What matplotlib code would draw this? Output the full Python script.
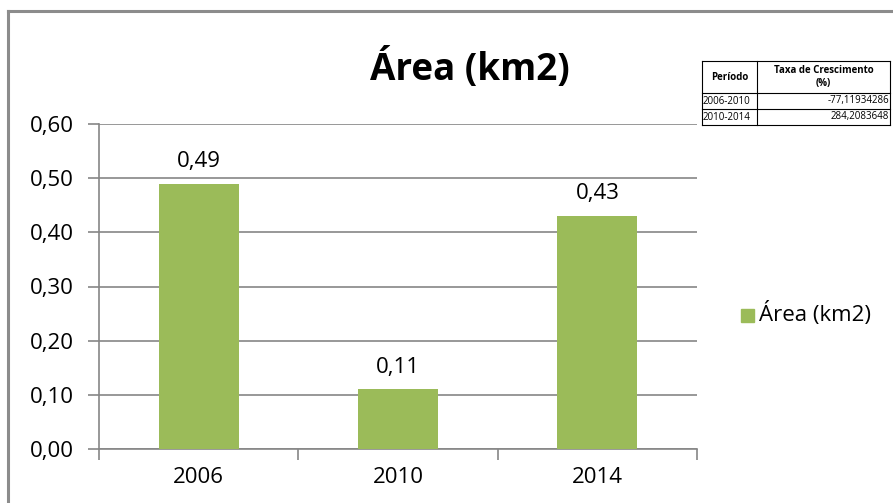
import matplotlib.pyplot as plt
from matplotlib.patches import Rectangle
from matplotlib.lines import Line2D

# Data
years = ['2006', '2010', '2014']
area = [0.49, 0.11, 0.43]
labels = ['0,49', '0,11', '0,43']
yticks = [0.0, 0.1, 0.2, 0.3, 0.4, 0.5, 0.6]
ytick_labels = ['0,00', '0,10', '0,20', '0,30', '0,40', '0,50', '0,60']
periodos = ['2006-2010', '2010-2014']
taxas = ['-77,11934286', '284,2083648']

plt.rcParams['font.family'] = ['Open Sans', 'DejaVu Sans']

W, H = 893, 503
fig = plt.figure(figsize=(W / 100, H / 100), dpi=100)
grid_c = '#868686'
fs = 16

# chart border (only left and top visible)
fig.add_artist(Line2D([8 / W, 8 / W], [0, 1 - 11 / H], color='#8c8c8c', lw=2.2))
fig.add_artist(Line2D([8 / W, 1], [1 - 11 / H, 1 - 11 / H], color='#8c8c8c', lw=2.2))

ax = fig.add_axes([99 / W, 1 - 449 / H, (697 - 99) / W, (449 - 124) / H])
x = range(len(years))
ax.bar(x, area, width=0.4, color='#9BBB59', zorder=3)
for i, v in enumerate(area):
    ax.text(i, v + 0.022, labels[i], ha='center', va='bottom', fontsize=fs)

ax.set_xlim(-0.5, 2.5)
ax.set_ylim(0, 0.6)
ax.set_yticks(yticks)
ax.set_yticklabels(ytick_labels, fontsize=fs)
ax.set_xticks(x)
ax.set_xticklabels(years, fontsize=fs)
ax.tick_params(axis='x', length=0, pad=13)
ax.tick_params(axis='y', length=8, color=grid_c, width=1.2, pad=10)
# x ticks at category boundaries
ax.set_xticks([-0.5, 0.5, 1.5, 2.5], minor=True)
ax.tick_params(axis='x', which='minor', length=8, color=grid_c, width=1.2)
ax.grid(axis='y', color=grid_c, lw=1.2, zorder=0)
for s in ['top', 'right']:
    ax.spines[s].set_visible(False)
ax.spines['left'].set_color(grid_c)
ax.spines['bottom'].set_color(grid_c)
ax.spines['left'].set_linewidth(1.2)
ax.spines['bottom'].set_linewidth(1.2)

fig.text(470 / W, 1 - 68 / H, 'Área (km2)', ha='center', va='center',
         fontsize=26.5, fontweight='bold')

# legend
fig.add_artist(Rectangle((741 / W, 1 - 322 / H), 13 / W, 13 / H,
                         color='#9BBB59', transform=fig.transFigure))
fig.text(759 / W, 1 - 314 / H, 'Área (km2)', ha='left', va='center', fontsize=fs)

# small table
tl, tm, tr = 702, 757, 890
rows_y = [61, 93, 109, 125]
for yy in rows_y:
    fig.add_artist(Line2D([tl / W, tr / W], [1 - yy / H, 1 - yy / H], color='black', lw=0.8))
for xx in [tl, tm, tr]:
    fig.add_artist(Line2D([xx / W, xx / W], [1 - 61 / H, 1 - 125 / H], color='black', lw=0.8))
fig.text((tl + tm) / 2 / W, 1 - 77 / H, 'Período', ha='center', va='center',
         fontsize=7, fontweight='bold')
fig.text((tm + tr) / 2 / W, 1 - 77 / H, 'Taxa de Crescimento\n(%)', ha='center',
         va='center', fontsize=7, fontweight='bold', linespacing=1.2)
for i in range(2):
    yc = (rows_y[i + 1] + rows_y[i + 2]) / 2
    fig.text((tl + 1) / W, 1 - yc / H, periodos[i], ha='left', va='center', fontsize=7)
    fig.text((tr - 1) / W, 1 - yc / H, taxas[i], ha='right', va='center', fontsize=7)

fig.savefig('out.png', dpi=100)
